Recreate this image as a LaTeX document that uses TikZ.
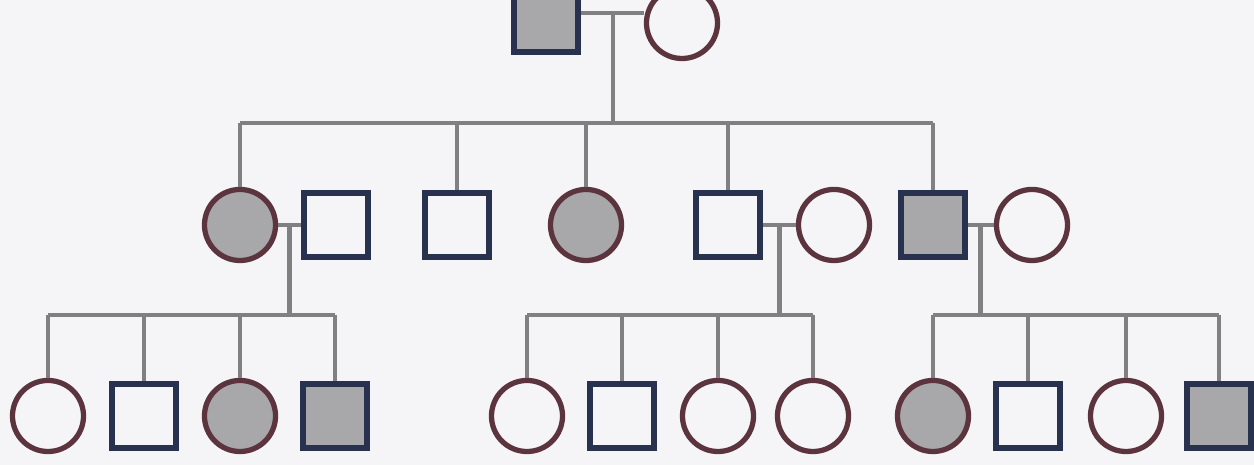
\documentclass[tikz,border=0pt]{standalone}
\usepackage{tikz}
\usetikzlibrary{positioning, calc}

\definecolor{bgcol}{RGB}{245,245,247}
\definecolor{shade}{RGB}{168,168,170}
\definecolor{linkgray}{RGB}{128,128,130}
\definecolor{maleline}{RGB}{40,50,78}
\definecolor{femaleline}{RGB}{92,52,62}

\begin{document}
\begin{tikzpicture}[
    x=0.01cm, y=-0.01cm,
    male/.style={rectangle, draw=maleline, line width=1.5pt, minimum size=0.64cm, fill=bgcol, inner sep=0pt},
    female/.style={circle, draw=femaleline, line width=1.5pt, minimum size=0.71cm, fill=bgcol, inner sep=0pt},
    affected/.style={fill=shade},
    link/.style={draw=linkgray, line width=1.4pt}
]

    % Frame
    \useasboundingbox (0, 0) rectangle (1254, 465);
    \clip (0, 0) rectangle (1254, 465);
    \fill[bgcol] (0, 0) rectangle (1254, 465);

    % Generation I
    \node[male, affected] (gf) at (546, 20) {};
    \node[female] (gm) at (682, 23) {};

    % Generation II
    \node[female, affected] (ia) at (240, 225) {};
    \node[male] (ib) at (336, 225) {};
    \node[male] (ic) at (457, 225) {};
    \node[female, affected] (id) at (586, 225) {};
    \node[male] (ie) at (728, 225) {};
    \node[female] (if) at (834, 225) {};
    \node[male, affected] (ig) at (933, 225) {};
    \node[female] (ih) at (1032, 225) {};

    % Generation III
    \node[female] (ja) at (48, 416) {};
    \node[male] (jb) at (144, 416) {};
    \node[female, affected] (jc) at (240, 416) {};
    \node[male, affected] (jd) at (335, 416) {};

    \node[female] (je) at (527, 416) {};
    \node[male] (jf) at (622, 416) {};
    \node[female] (jg) at (718, 416) {};
    \node[female] (jh) at (813, 416) {};

    \node[female, affected] (ji) at (933, 416) {};
    \node[male] (jj) at (1028, 416) {};
    \node[female] (jk) at (1126, 416) {};
    \node[male, affected] (jl) at (1219, 416) {};

    % Couples and their drop points
    \coordinate (m0) at (613, 13);
    \coordinate (s0) at (613, 123);
    \draw[link] (gf.east |- m0) -- (gm.west |- m0);

    \draw[link] (ia.east) -- (ib.west);
    \coordinate (m1) at ($(ia.east)!0.5!(ib.west)$);
    \coordinate (s1) at (m1 |- 0, 315);

    \draw[link] (ie.east) -- (if.west);
    \coordinate (m2) at ($(ie.east)!0.5!(if.west)$);
    \coordinate (s2) at (m2 |- 0, 315);

    \draw[link] (ig.east) -- (ih.west);
    \coordinate (m3) at ($(ig.east)!0.5!(ih.west)$);
    \coordinate (s3) at (m3 |- 0, 315);

    % Descent lines
    \draw[link] (m0) -- (s0);
    \draw[link] (m1) -- (s1);
    \draw[link] (m2) -- (s2);
    \draw[link] (m3) -- (s3);

    % Sibling bars
    \draw[link] (ia.north |- s0) -- (ig.north |- s0);
    \draw[link] (ja.north |- s1) -- (jd.north |- s1);
    \draw[link] (je.north |- s2) -- (jh.north |- s2);
    \draw[link] (ji.north |- s3) -- (jl.north |- s3);

    % Child lines
    \foreach \kid in {ia, ic, id, ie, ig}
        \draw[link] (\kid.north |- s0) -- (\kid.north);
    \foreach \kid in {ja, jb, jc, jd}
        \draw[link] (\kid.north |- s1) -- (\kid.north);
    \foreach \kid in {je, jf, jg, jh}
        \draw[link] (\kid.north |- s2) -- (\kid.north);
    \foreach \kid in {ji, jj, jk, jl}
        \draw[link] (\kid.north |- s3) -- (\kid.north);

\end{tikzpicture}
\end{document}
